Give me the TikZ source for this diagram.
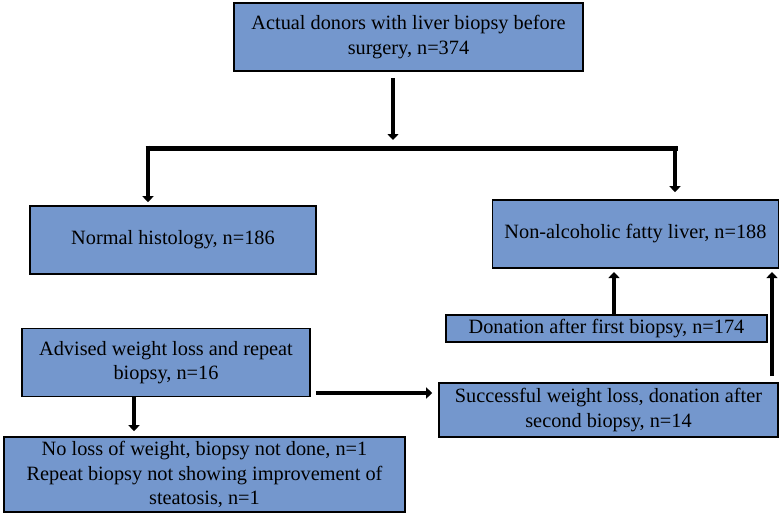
\documentclass[tikz,border=0pt]{standalone}
\usepackage{fontspec}
\setmainfont{Liberation Serif}
\usepackage{tikz}
\usetikzlibrary{positioning,arrows.meta}
\definecolor{boxblue}{RGB}{116,151,205}

\begin{document}
\begin{tikzpicture}[x=1pt,y=-1pt,
	box/.style={draw=black,line width=1.6pt,fill=boxblue,inner sep=0pt,align=center,font=\fontsize{20.3}{24.5}\selectfont},
	arr/.style={black,line width=4pt,-{Triangle[width=11pt,length=6pt]}}]
	\useasboundingbox (0,0) rectangle (780,515);
	% boxes
	\node [box,minimum width=349pt,minimum height=68pt] (donors) at (408.5,37) {Actual donors with liver biopsy before\\surgery, n=374};
	\node [box,minimum width=286pt,minimum height=68pt] (normal) at (173,240) {Normal histology, n=186};
	\node [box,minimum width=286pt,minimum height=68pt] (nafl) at (635.5,234) {Non-alcoholic fatty liver, n=188};
	\node [box,minimum width=321pt,minimum height=27pt] (first) at (606.5,328.5) {Donation after first biopsy, n=174};
	\node [box,minimum width=288pt,minimum height=68pt] (advised) at (166,362.5) {Advised weight loss and repeat\\biopsy, n=16};
	\node [box,minimum width=339pt,minimum height=54pt] (success) at (608.5,410) {Successful weight loss, donation after\\second biopsy, n=14};
	\node [box,minimum width=401pt,minimum height=75pt] (bottom) at (204.5,474.5) {No loss of weight, biopsy not done, n=1\\Repeat biopsy not showing improvement of\\steatosis, n=1};
	% fork
	\coordinate (fork) at (393,148);
	\coordinate (forkL) at (148,148);
	\coordinate (forkR) at (675,148);
	\draw [arr] ([yshift=-6pt]donors.south -| fork)--([yshift=8pt]fork);
	\draw [black,line width=5pt] ([xshift=-2.5pt]forkL)--([xshift=2.5pt]forkR);
	\draw [arr] ([yshift=2.5pt]forkL)--([yshift=3pt]normal.north -| forkL);
	\draw [arr] ([yshift=2.5pt]forkR)--([yshift=7pt]nafl.north -| forkR);
	% right side
	\coordinate (upA) at (614,272);
	\coordinate (upB) at (772,272);
	\draw [arr] (first.north -| upA)--(upA);
	\draw [arr] ([yshift=6pt]success.north -| upB)--(upB);
	% left side
	\coordinate (side) at (0,393);
	\coordinate (drop) at (134,0);
	\draw [arr] ([xshift=5pt]advised.east |- side)--([xshift=-6pt]success.west |- side);
	\draw [arr] (advised.south -| drop)--([yshift=5pt]bottom.north -| drop);
\end{tikzpicture}
\end{document}
